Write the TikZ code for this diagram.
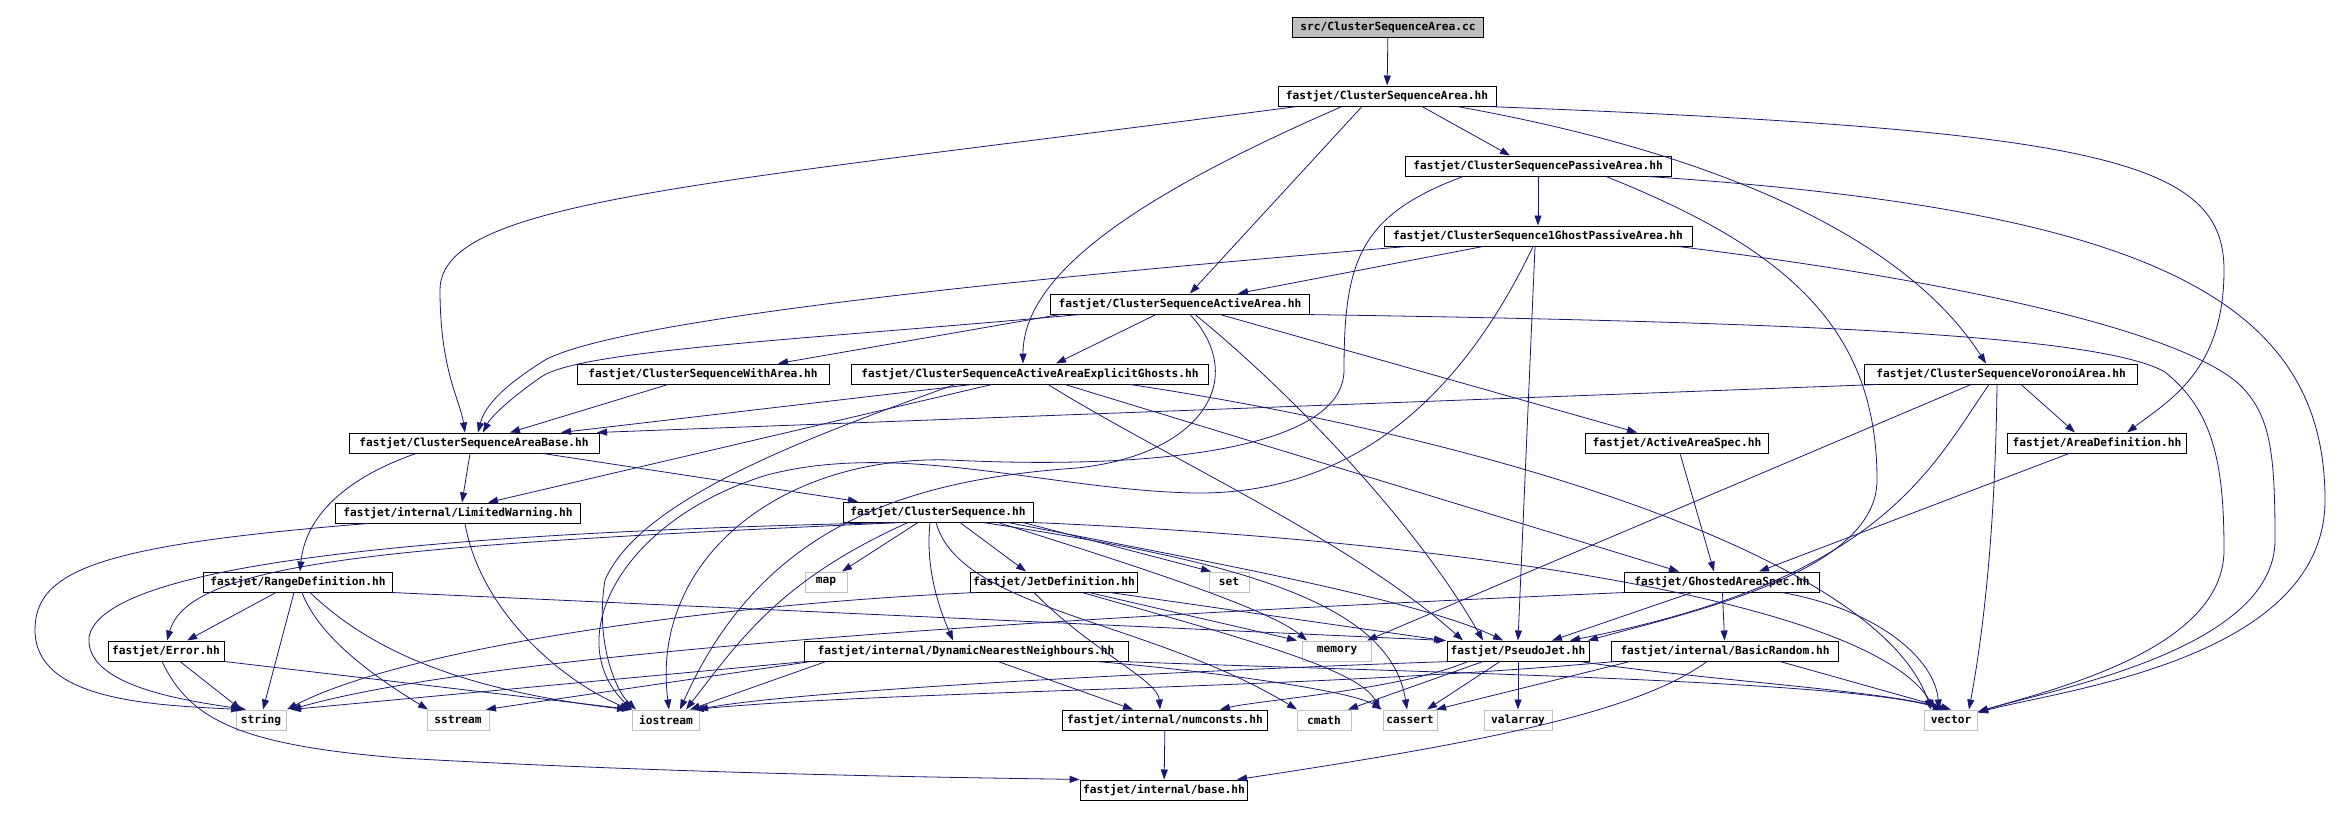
\documentclass[tikz,border=0pt]{standalone}
\usepackage{fontspec}
\usetikzlibrary{arrows.meta}
\newfontfamily\graphfont{DejaVu Sans Mono}
\definecolor{edgeblue}{RGB}{25,25,112}
\definecolor{sysgray}{RGB}{191,191,191}

\begin{document}
\begin{tikzpicture}[x=1pt,y=-1pt,
    every node/.style={font=\graphfont\bfseries\fontsize{11.2}{12}\selectfont},
    hdr/.style={draw=black,line width=1pt,minimum height=20pt,inner xsep=3pt,inner ysep=0pt},
    sys/.style={hdr,draw=sysgray},
    root/.style={hdr,fill=sysgray},
    dep/.style={draw=edgeblue,line width=0.8pt,-{Triangle[length=10pt,width=7pt]}}]
  \useasboundingbox (0,0) rectangle (2344,817);
  \node[root,minimum width=191] (cc) at (1388,27) {src/ClusterSequenceArea.cc};
  \node[hdr,minimum width=218] (area) at (1387,96) {fastjet/ClusterSequenceArea.hh};
  \node[hdr,minimum width=266] (passive) at (1538,166) {fastjet/ClusterSequencePassiveArea.hh};
  \node[hdr,minimum width=308] (ghost1) at (1538,236) {fastjet/ClusterSequence1GhostPassiveArea.hh};
  \node[hdr,minimum width=259] (active) at (1180,304) {fastjet/ClusterSequenceActiveArea.hh};
  \node[hdr,minimum width=252] (witharea) at (703,374) {fastjet/ClusterSequenceWithArea.hh};
  \node[hdr,minimum width=357] (explicit) at (1030,374) {fastjet/ClusterSequenceActiveAreaExplicitGhosts.hh};
  \node[hdr,minimum width=273] (voronoi) at (2001,374) {fastjet/ClusterSequenceVoronoiArea.hh};
  \node[hdr,minimum width=250] (areabase) at (474,443) {fastjet/ClusterSequenceAreaBase.hh};
  \node[hdr,minimum width=183] (activespec) at (1677,443) {fastjet/ActiveAreaSpec.hh};
  \node[hdr,minimum width=179] (areadef) at (2097,443) {fastjet/AreaDefinition.hh};
  \node[hdr,minimum width=245] (limited) at (458,513) {fastjet/internal/LimitedWarning.hh};
  \node[hdr,minimum width=190] (cs) at (938,512) {fastjet/ClusterSequence.hh};
  \node[hdr,minimum width=189] (range) at (298,582) {fastjet/RangeDefinition.hh};
  \node[sys,minimum width=42] (map) at (826,582) {map};
  \node[hdr,minimum width=163] (jetdef) at (1054,582) {fastjet/JetDefinition.hh};
  \node[sys,minimum width=40] (set) at (1229,582) {set};
  \node[hdr,minimum width=195] (ghosted) at (1722,582) {fastjet/GhostedAreaSpec.hh};
  \node[hdr,minimum width=116] (error) at (166,651) {fastjet/Error.hh};
  \node[hdr,minimum width=324] (dnn) at (966,651) {fastjet/internal/DynamicNearestNeighbours.hh};
  \node[sys,minimum width=69] (memory) at (1337,651) {memory};
  \node[hdr,minimum width=142] (pseudojet) at (1518,651) {fastjet/PseudoJet.hh};
  \node[hdr,minimum width=227] (basicrandom) at (1725,651) {fastjet/internal/BasicRandom.hh};
  \node[sys,minimum width=50] (string) at (261,720) {string};
  \node[sys,minimum width=62] (sstream) at (458,720) {sstream};
  \node[sys,minimum width=67] (iostream) at (666,720) {iostream};
  \node[hdr,minimum width=205] (numconsts) at (1165,720) {fastjet/internal/numconsts.hh};
  \node[sys,minimum width=54] (cmath) at (1324,720) {cmath};
  \node[sys,minimum width=54] (cassert) at (1410,720) {cassert};
  \node[sys,minimum width=68] (valarray) at (1518,720) {valarray};
  \node[sys,minimum width=53] (vector) at (1951,720) {vector};
  \node[hdr,minimum width=161] (base) at (1164,790) {fastjet/internal/base.hh};

  \draw[dep] (cc) -- (area);
  \draw[dep] ([xshift=-90]area.south) .. controls (700,185) and (440,200) .. (440,290) .. controls (440,370) and (460,400) .. ([xshift=-9]areabase.north);
  \draw[dep] ([xshift=-45]area.south) .. controls (1150,190) and (1023,270) .. ([xshift=-7]explicit.north);
  \draw[dep] ([xshift=-25]area.south) -- ([xshift=10]active.north);
  \draw[dep] ([xshift=35]area.south) -- ([xshift=-28]passive.north);
  \draw[dep] ([xshift=70]area.south) .. controls (1700,150) and (1900,230) .. ([xshift=-15]voronoi.north);
  \draw[dep] ([xshift=100]area.south) .. controls (2100,130) and (2224,160) .. (2224,270) .. controls (2224,370) and (2170,400) .. ([xshift=30]areadef.north);

  \draw[dep] (passive) -- (ghost1);
  \draw[dep] ([xshift=-75]passive.south) .. controls (1360,215) and (1344,260) .. (1344,370) .. controls (1344,450) and (1150,470) .. (950,460) .. controls (780,455) and (650,560) .. ([xshift=3]iostream.north);
  \draw[dep] ([xshift=68]passive.south) .. controls (1790,250) and (1877,330) .. (1877,480) .. controls (1877,570) and (1700,610) .. ([xshift=70]pseudojet.north);
  \draw[dep] ([xshift=110]passive.south) .. controls (2150,210) and (2325,300) .. (2325,500) .. controls (2325,660) and (2060,690) .. (vector);

  \draw[dep] ([xshift=-131]ghost1.south) .. controls (1000,280) and (620,320) .. (545,360) .. controls (505,385) and (485,405) .. ([xshift=4]areabase.north);
  \draw[dep] ([xshift=-55]ghost1.south) -- ([xshift=58]active.north);
  \draw[dep] ([xshift=-5]ghost1.south) .. controls (1460,400) and (1350,495) .. (1194,493) .. controls (1050,490) and (900,440) .. (767,475) .. controls (620,520) and (560,640) .. ([xshift=-34]iostream.north);
  \draw[dep] ([xshift=-3]ghost1.south) -- (pseudojet.north);
  \draw[dep] ([xshift=140]ghost1.south) .. controls (1950,280) and (2180,330) .. (2240,385) .. controls (2270,415) and (2275,450) .. (2275,540) .. controls (2275,650) and (2050,690) .. (vector);

  \draw[dep] ([xshift=-100]active.south) .. controls (800,340) and (580,350) .. (541,377) .. controls (515,395) and (492,415) .. ([xshift=9]areabase.north);
  \draw[dep] ([xshift=-120]active.south) -- ([xshift=75]witharea.north);
  \draw[dep] ([xshift=-24]active.south) -- ([xshift=26]explicit.north);
  \draw[dep] ([xshift=10]active.south) .. controls (1250,380) and (1200,455) .. (1077,468) .. controls (900,480) and (760,530) .. ([xshift=14]iostream.north);
  \draw[dep] ([xshift=15]active.south) .. controls (1300,400) and (1420,530) .. ([xshift=-35]pseudojet.north);
  \draw[dep] ([xshift=40]active.south) -- ([xshift=-40]activespec.north);
  \draw[dep] ([xshift=125]active.south) .. controls (1800,322) and (2100,335) .. (2165,372) .. controls (2212,410) and (2224,460) .. (2224,550) .. controls (2224,650) and (2050,690) .. (vector);

  \draw[dep] ([xshift=-35]witharea.south) -- ([xshift=36]areabase.north);

  \draw[dep] ([xshift=-58]explicit.south) -- ([xshift=87]areabase.north);
  \draw[dep] ([xshift=-38]explicit.south) -- ([xshift=30]limited.north);
  \draw[dep] ([xshift=-75]explicit.south) .. controls (800,440) and (640,500) .. (605,580) .. controls (595,640) and (615,690) .. ([xshift=-30]iostream.north);
  \draw[dep] ([xshift=18]explicit.south) .. controls (1170,460) and (1350,540) .. ([xshift=-55]pseudojet.north);
  \draw[dep] ([xshift=35]explicit.south) -- ([xshift=-43]ghosted.north);
  \draw[dep] ([xshift=100]explicit.south) .. controls (1500,440) and (1880,560) .. ([xshift=-20]vector.north);

  \draw[dep] ([xshift=-124]voronoi.south) -- ([xshift=123]areabase.north);
  \draw[dep] ([xshift=-30]voronoi.south) -- ([xshift=30]memory.north);
  \draw[dep] ([xshift=-12]voronoi.south) .. controls (1930,470) and (1880,580) .. ([xshift=52]pseudojet.north);
  \draw[dep] ([xshift=-4]voronoi.south) .. controls (1995,550) and (1980,650) .. ([xshift=18]vector.north);
  \draw[dep] ([xshift=20]voronoi.south) -- ([xshift=-22]areadef.north);

  \draw[dep] ([xshift=-58]areabase.south) .. controls (340,480) and (305,520) .. ([xshift=2]range.north);
  \draw[dep] ([xshift=-4]areabase.south) -- ([xshift=4]limited.north);
  \draw[dep] ([xshift=69]areabase.south) -- ([xshift=-80]cs.north);

  \draw[dep] (activespec) -- ([xshift=-8]ghosted.north);
  \draw[dep] ([xshift=-28]areadef.south) -- ([xshift=37]ghosted.north);

  \draw[dep] ([xshift=-90]limited.south) .. controls (100,545) and (35,570) .. (35,630) .. controls (35,700) and (150,705) .. ([xshift=-20]string.north);
  \draw[dep] ([xshift=7]limited.south) .. controls (480,610) and (560,680) .. ([xshift=-36]iostream.north);

  \draw[dep] ([xshift=-38]cs.south) .. controls (300,535) and (100,580) .. (89,637) .. controls (85,685) and (180,700) .. ([xshift=-15]string.north);
  \draw[dep] ([xshift=-36]cs.south) .. controls (400,545) and (190,560) .. ([xshift=1]error.north);
  \draw[dep] ([xshift=-20]cs.south) -- ([xshift=16]map.north);
  \draw[dep] ([xshift=22]cs.south) -- ([xshift=-28]jetdef.north);
  \draw[dep] ([xshift=-8]cs.south) .. controls (925,570) and (940,610) .. ([xshift=-13]dnn.north);
  \draw[dep] ([xshift=-30]cs.south) .. controls (780,580) and (740,640) .. ([xshift=20]iostream.north);
  \draw[dep] ([xshift=-2]cs.south) .. controls (960,610) and (1150,620) .. ([xshift=-27]cmath.north);
  \draw[dep] ([xshift=85]cs.south) -- ([xshift=-18]set.north);
  \draw[dep] ([xshift=60]cs.south) .. controls (1150,570) and (1270,610) .. ([xshift=-30]memory.north);
  \draw[dep] ([xshift=70]cs.south) .. controls (1200,560) and (1420,600) .. ([xshift=-15]pseudojet.north);
  \draw[dep] ([xshift=45]cs.south) .. controls (1230,560) and (1390,600) .. ([xshift=-3]cassert.north);
  \draw[dep] ([xshift=95]cs.south) .. controls (1450,540) and (1870,600) .. ([xshift=-16]vector.north);

  \draw[dep] ([xshift=-22]range.south) -- ([xshift=21]error.north);
  \draw[dep] ([xshift=-4]range.south) -- ([xshift=2]string.north);
  \draw[dep] ([xshift=4]range.south) .. controls (320,640) and (380,680) .. ([xshift=-30]sstream.north);
  \draw[dep] ([xshift=12]range.south) .. controls (370,650) and (460,690) .. ([xshift=-39]iostream.north);
  \draw[dep] ([xshift=94]range.south) -- ([xshift=-72]pseudojet.north);

  \draw[dep] ([xshift=-78]jetdef.south) .. controls (700,605) and (400,650) .. ([xshift=26]string.north);
  \draw[dep] ([xshift=-20]jetdef.south) .. controls (1090,650) and (1158,680) .. ([xshift=-5]numconsts.north);
  \draw[dep] ([xshift=35]jetdef.south) -- ([xshift=-40]memory.north);
  \draw[dep] ([xshift=56]jetdef.south) -- ([xshift=-74]pseudojet.north);
  \draw[dep] ([xshift=28]jetdef.south) .. controls (1250,640) and (1360,670) .. ([xshift=-30]cassert.north);

  \draw[dep] ([xshift=-97]ghosted.south) .. controls (1100,615) and (500,650) .. ([xshift=30]string.north);
  \draw[dep] ([xshift=-30]ghosted.south) -- ([xshift=34]pseudojet.north);
  \draw[dep] (ghosted) -- (basicrandom);
  \draw[dep] ([xshift=60]ghosted.south) .. controls (1880,610) and (1935,660) .. ([xshift=-12]vector.north);

  \draw[dep] ([xshift=-4]error.south) .. controls (190,720) and (240,745) .. (400,758) .. controls (700,775) and (1000,778) .. (base.north west);
  \draw[dep] ([xshift=14]error.south) -- ([xshift=-20]string.north);
  \draw[dep] (error.south east) -- (iostream.north west);

  \draw[dep] ([xshift=-160]dnn.south) -- ([xshift=30]string.north);
  \draw[dep] ([xshift=-155]dnn.south) -- ([xshift=28]sstream.north);
  \draw[dep] ([xshift=-140]dnn.south) -- ([xshift=24]iostream.north);
  \draw[dep] ([xshift=32]dnn.south) -- ([xshift=-32]numconsts.north);
  \draw[dep] ([xshift=130]dnn.south) .. controls (1200,670) and (1350,690) .. ([xshift=-28]cassert.north);
  \draw[dep] ([xshift=155]dnn.south) .. controls (1400,672) and (1850,680) .. ([xshift=-8]vector.north);

  \draw[dep] (pseudojet) -- (valarray);
  \draw[dep] ([xshift=-18]pseudojet.south) -- ([xshift=17]cassert.north);
  \draw[dep] ([xshift=-35]pseudojet.south) -- ([xshift=24]cmath.north);
  \draw[dep] ([xshift=-50]pseudojet.south) .. controls (1400,690) and (1260,700) .. ([xshift=55]numconsts.north);
  \draw[dep] ([xshift=-68]pseudojet.south) .. controls (1200,670) and (800,690) .. ([xshift=32]iostream.north);
  \draw[dep] ([xshift=62]pseudojet.south) .. controls (1700,680) and (1880,690) .. ([xshift=-4]vector.north);

  \draw[dep] ([xshift=-95]basicrandom.south) -- ([xshift=26]cassert.north);
  \draw[dep] ([xshift=-110]basicrandom.south) .. controls (1300,690) and (900,690) .. ([xshift=28]iostream.north);
  \draw[dep] ([xshift=55]basicrandom.south) -- (vector.north);
  \draw[dep] ([xshift=-18]basicrandom.south) .. controls (1640,710) and (1500,740) .. ([xshift=73]base.north);

  \draw[dep] (numconsts) -- (base);
\end{tikzpicture}
\end{document}
